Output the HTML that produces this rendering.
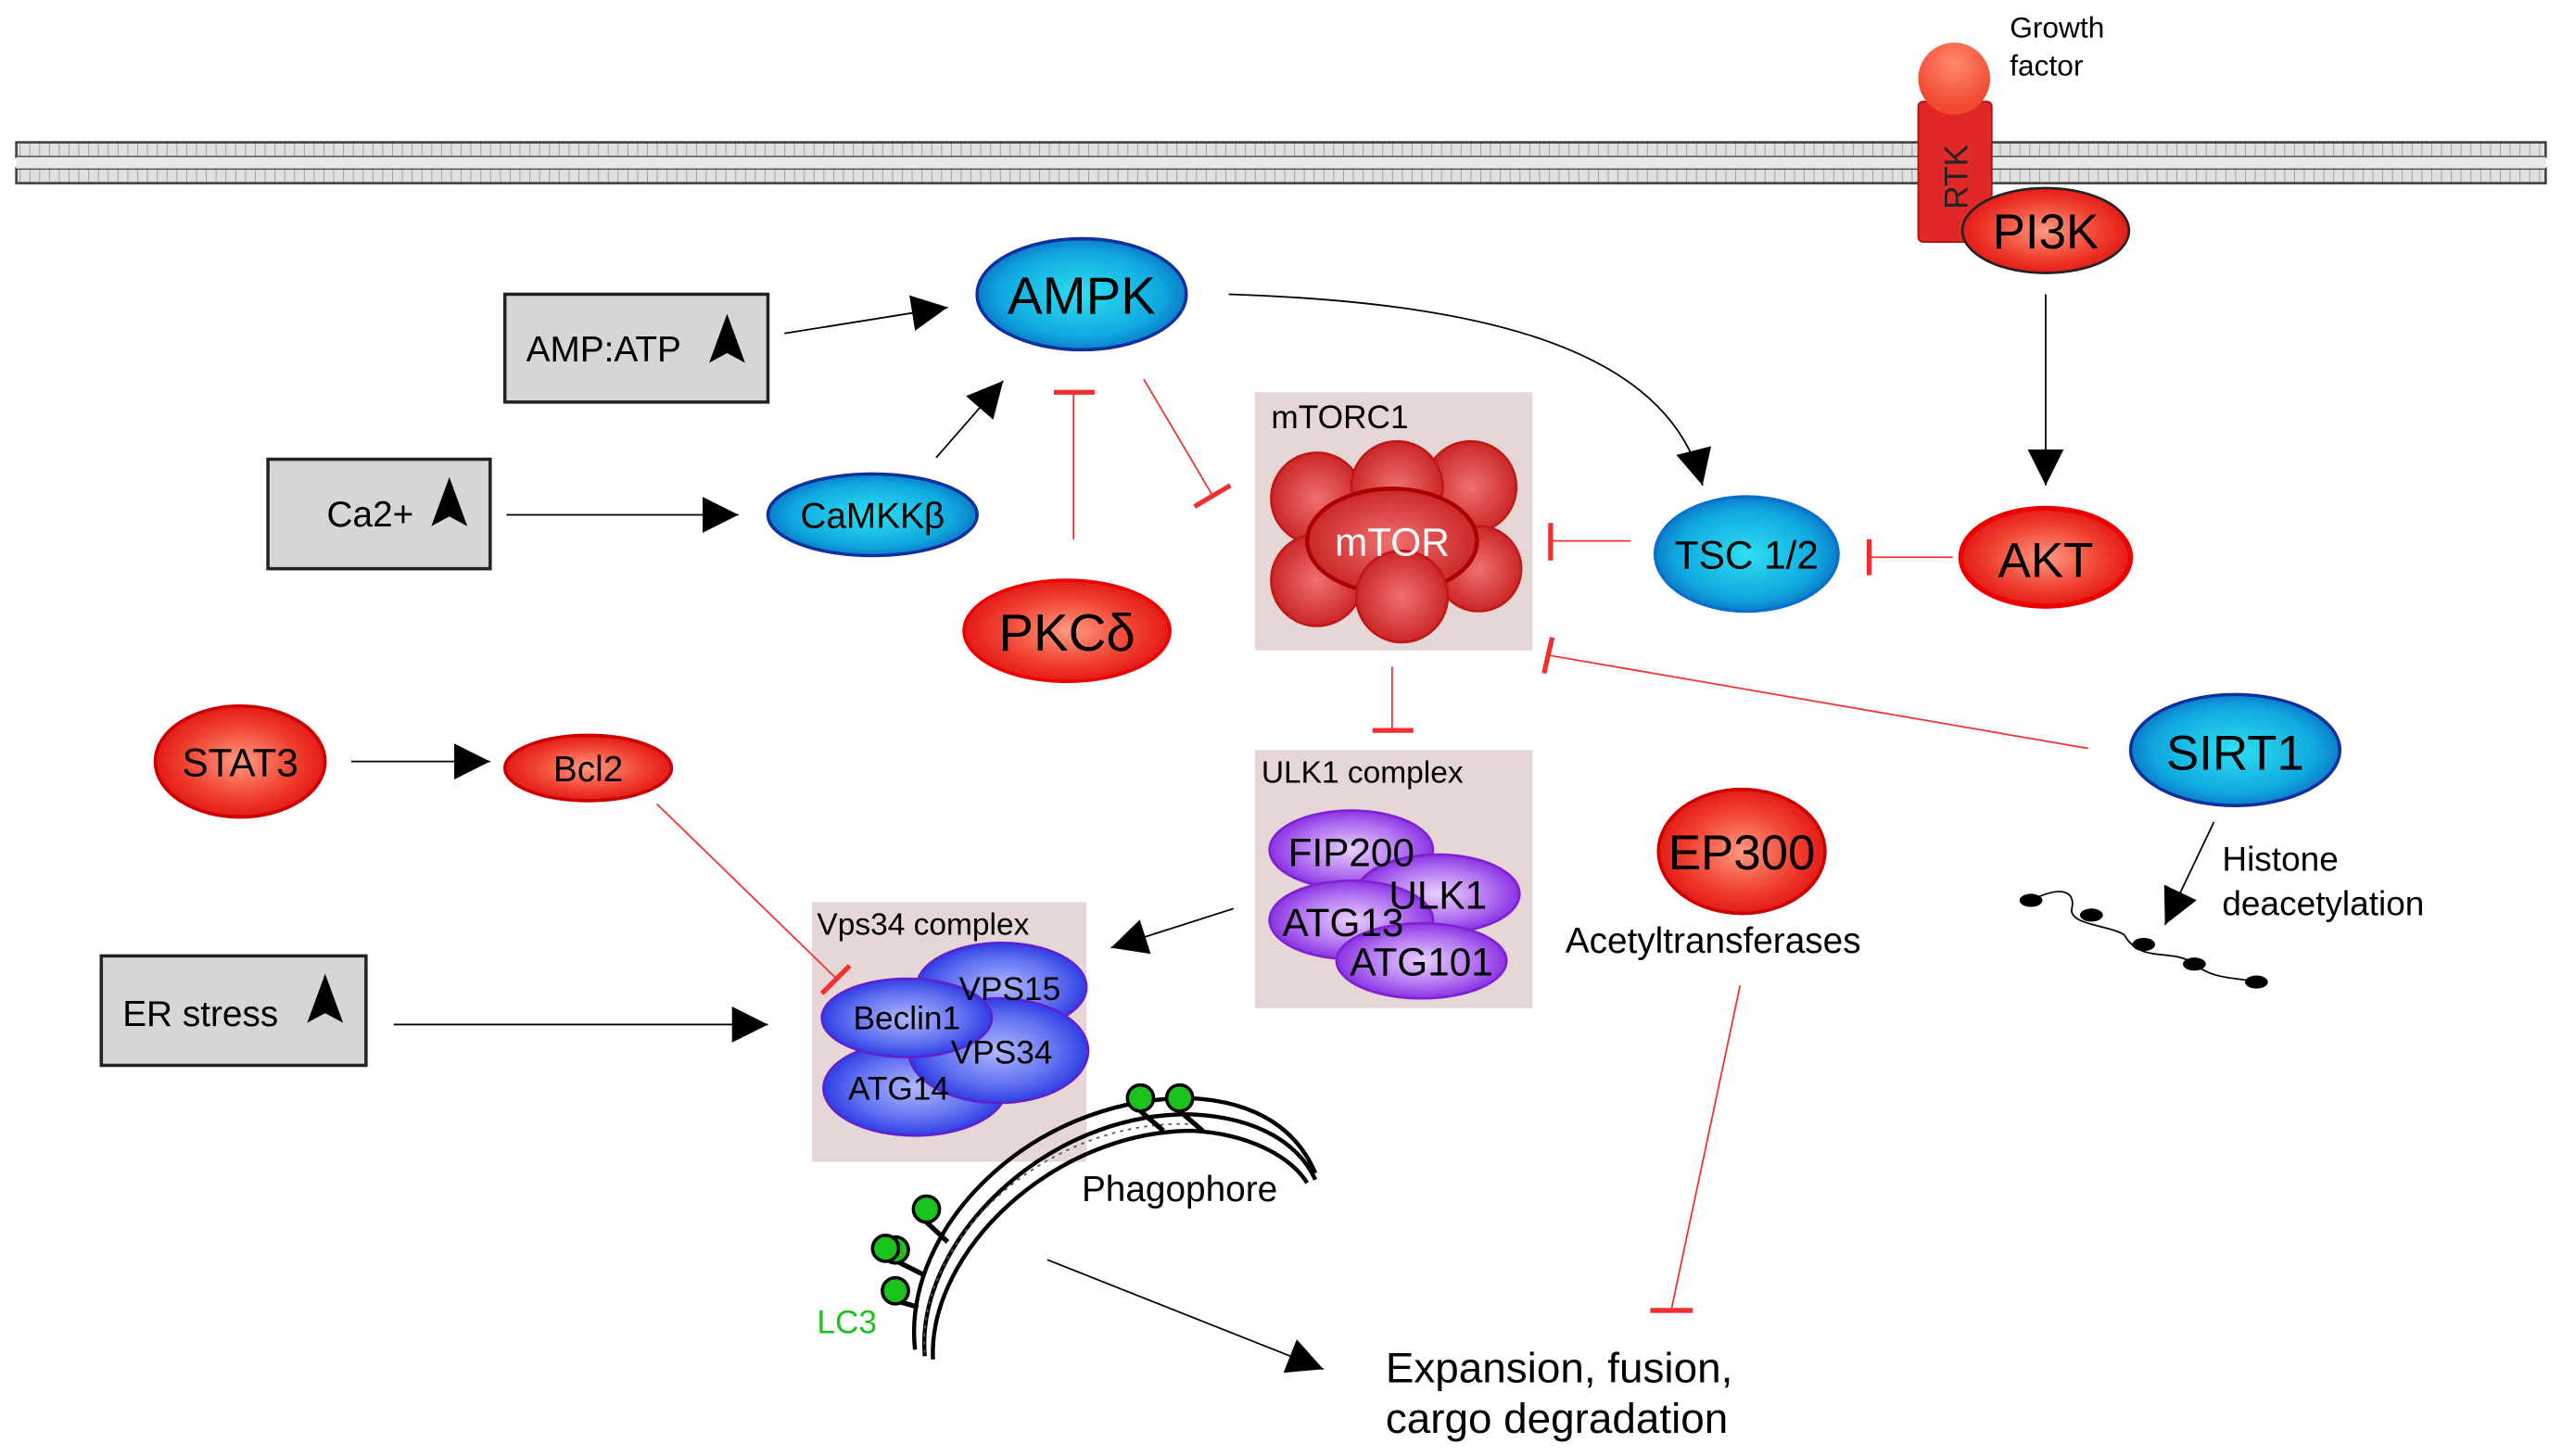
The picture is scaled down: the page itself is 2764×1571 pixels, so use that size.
<!DOCTYPE html>
<html><head><meta charset="utf-8"><style>html,body{margin:0;padding:0;background:#fff}svg{display:block}text{font-family:"Liberation Sans",sans-serif}</style></head><body>
<svg width="2764" height="1571" viewBox="0 0 1568 891" xmlns="http://www.w3.org/2000/svg">
<defs>
<radialGradient id="bl" cx="50%" cy="50%" r="55%"><stop offset="0" stop-color="#2ee0f0"/><stop offset="0.7" stop-color="#10a8e0"/><stop offset="1" stop-color="#0a6cc0"/></radialGradient>
<radialGradient id="rd" cx="50%" cy="50%" r="55%"><stop offset="0" stop-color="#ff9a80"/><stop offset="0.6" stop-color="#f04030"/><stop offset="1" stop-color="#e01010"/></radialGradient>
<radialGradient id="rb" cx="50%" cy="50%" r="55%"><stop offset="0" stop-color="#f07070"/><stop offset="1" stop-color="#c82020"/></radialGradient>
<radialGradient id="pu" cx="50%" cy="50%" r="55%"><stop offset="0" stop-color="#e8d0ff"/><stop offset="0.6" stop-color="#b070f0"/><stop offset="1" stop-color="#8020e0"/></radialGradient>
<radialGradient id="vb" cx="50%" cy="50%" r="55%"><stop offset="0" stop-color="#b0b8ff"/><stop offset="0.6" stop-color="#6070f0"/><stop offset="1" stop-color="#2030e0"/></radialGradient>
<radialGradient id="gr" cx="50%" cy="30%" r="60%"><stop offset="0" stop-color="#ff8a70"/><stop offset="1" stop-color="#f04a30"/></radialGradient>
<pattern id="mem" width="6" height="10" patternUnits="userSpaceOnUse"><rect width="6" height="10" fill="#e0e0e0"/><line x1="0" y1="0" x2="0" y2="10" stroke="#999" stroke-width="1"/></pattern>
<marker id="ar" viewBox="0 0 10 10" refX="10" refY="5" markerWidth="22" markerHeight="22" markerUnits="userSpaceOnUse" orient="auto"><path d="M0,0 L10,5 L0,10 z" fill="#000"/></marker>
</defs>
<rect x="10" y="87" width="1548" height="9" fill="url(#mem)" stroke="#444" stroke-width="1.5"/>
<rect x="10" y="103" width="1548" height="9" fill="url(#mem)" stroke="#444" stroke-width="1.5"/>
<rect x="10" y="96" width="1548" height="7" fill="#e8e8e8"/>
<rect x="1174" y="62" width="45" height="86" rx="3" fill="#e02828" stroke="#b01010"/>
<text transform="translate(1204,128) rotate(-90)" font-size="20" fill="#222">RTK</text>
<circle cx="1196" cy="48" r="22" fill="url(#gr)"/>
<text x="1230" y="23" font-size="18">Growth</text><text x="1230" y="46" font-size="18">factor</text>
<ellipse cx="1252" cy="141" rx="51" ry="26" fill="url(#rd)" stroke="#222" stroke-width="1.5"/>
<text x="1252" y="152" font-size="30" text-anchor="middle">PI3K</text>
<line x1="1252" y1="180" x2="1252" y2="297" stroke="#000" marker-end="url(#ar)"/>
<ellipse cx="1252" cy="341" rx="52" ry="30" fill="url(#rd)" stroke="#e00" stroke-width="3"/>
<text x="1252" y="353" font-size="30" text-anchor="middle">AKT</text>
<ellipse cx="1069" cy="339" rx="56" ry="35" fill="url(#bl)" stroke="#0a70d0" stroke-width="2"/>
<text x="1069" y="348" font-size="24" text-anchor="middle">TSC 1/2</text>
<rect x="768" y="240" width="170" height="158" fill="#e6d6d6"/>
<text x="778" y="262" font-size="20">mTORC1</text>
<g fill="url(#rb)" stroke="#c01818" stroke-width="1.5">
<circle cx="806" cy="305" r="28"/><circle cx="900" cy="298" r="28"/><circle cx="855" cy="298" r="28"/><circle cx="806" cy="355" r="28"/><circle cx="905" cy="348" r="26"/>
<ellipse cx="852" cy="331" rx="52" ry="32" stroke="#a00" stroke-width="2.5"/><circle cx="858" cy="365" r="28"/></g>
<text x="852" y="340" font-size="24" fill="#fff" text-anchor="middle">mTOR</text>
<ellipse cx="662" cy="180" rx="64" ry="34" fill="url(#bl)" stroke="#1030a0" stroke-width="2"/>
<text x="662" y="192" font-size="32" text-anchor="middle">AMPK</text>
<path d="M752,180 C900,185 1020,210 1042,297" fill="none" stroke="#000" stroke-width="1" marker-end="url(#ar)"/>
<ellipse cx="653" cy="386" rx="63" ry="31" fill="url(#rd)" stroke="#e00" stroke-width="2"/>
<text x="653" y="398" font-size="32" text-anchor="middle">PKCδ</text>
<g fill="#d6d6d6" stroke="#222" stroke-width="2"><rect x="309" y="180" width="161" height="66"/><rect x="164" y="281" width="136" height="67"/><rect x="62" y="585" width="162" height="67"/></g>
<text x="322" y="221" font-size="22">AMP:ATP</text><path d="M445,192 L456,222 L445,216 L434,222 z" fill="#000"/>
<text x="200" y="322" font-size="22">Ca2+</text><path d="M275,292 L286,322 L275,316 L264,322 z" fill="#000"/>
<text x="75" y="628" font-size="22">ER stress</text><path d="M199,596 L210,626 L199,620 L188,626 z" fill="#000"/>
<g stroke="#000" stroke-width="1" fill="none"><line x1="480" y1="204" x2="580" y2="188" marker-end="url(#ar)"/><line x1="310" y1="315" x2="452" y2="315" marker-end="url(#ar)"/><line x1="573" y1="280" x2="614" y2="233" marker-end="url(#ar)"/><line x1="215" y1="466" x2="300" y2="466" marker-end="url(#ar)"/><line x1="755" y1="556" x2="680" y2="580" marker-end="url(#ar)"/><line x1="241" y1="627" x2="470" y2="627" marker-end="url(#ar)"/><line x1="1355" y1="503" x2="1325" y2="566" marker-end="url(#ar)"/><line x1="641" y1="771" x2="810" y2="838" marker-end="url(#ar)"/></g>
<ellipse cx="534" cy="315" rx="64" ry="25" fill="url(#bl)" stroke="#1030a0" stroke-width="2"/>
<text x="534" y="323" font-size="22" text-anchor="middle">CaMKKβ</text>
<ellipse cx="147" cy="466" rx="52" ry="34" fill="url(#rd)" stroke="#c00" stroke-width="2"/>
<text x="147" y="475" font-size="24" text-anchor="middle">STAT3</text>
<ellipse cx="360" cy="470" rx="51" ry="20" fill="url(#rd)" stroke="#c00" stroke-width="2"/>
<text x="360" y="478" font-size="22" text-anchor="middle">Bcl2</text>
<rect x="768" y="459" width="170" height="158" fill="#e6d6d6"/>
<text x="772" y="479" font-size="19">ULK1 complex</text>
<g fill="url(#pu)" stroke="#8020d0" stroke-width="1.5">
<ellipse cx="827" cy="520" rx="50" ry="24"/><ellipse cx="880" cy="547" rx="50" ry="24"/><ellipse cx="827" cy="563" rx="50" ry="24"/><ellipse cx="870" cy="588" rx="52" ry="23"/></g>
<g font-size="24" text-anchor="middle"><text x="827" y="530">FIP200</text><text x="880" y="556">ULK1</text><text x="822" y="573">ATG13</text><text x="870" y="597">ATG101</text></g>
<rect x="497" y="552" width="168" height="159" fill="#e6d6d6"/>
<text x="500" y="572" font-size="19">Vps34 complex</text>
<g fill="url(#vb)" stroke="#6020d0" stroke-width="1.5">
<ellipse cx="613" cy="604" rx="52" ry="27"/><ellipse cx="560" cy="666" rx="56" ry="29"/><ellipse cx="611" cy="643" rx="55" ry="32"/><ellipse cx="555" cy="623" rx="52" ry="24"/></g>
<g font-size="20" text-anchor="middle"><text x="618" y="612">VPS15</text><text x="555" y="630">Beclin1</text><text x="613" y="651">VPS34</text><text x="550" y="673">ATG14</text></g>
<ellipse cx="1368" cy="459" rx="64" ry="34" fill="url(#bl)" stroke="#1030a0" stroke-width="2"/>
<text x="1368" y="471" font-size="30" text-anchor="middle">SIRT1</text>
<text x="1360" y="533" font-size="21">Histone</text><text x="1360" y="560" font-size="21">deacetylation</text>
<path d="M1243,551 C1265,540 1270,548 1268,556 C1266,566 1290,566 1300,572 C1310,590 1330,580 1343,590 C1355,600 1370,598 1381,601" fill="none" stroke="#000"/>
<g fill="#000"><ellipse cx="1243" cy="551" rx="7" ry="4"/><ellipse cx="1280" cy="560" rx="7" ry="4"/><ellipse cx="1312" cy="578" rx="7" ry="4"/><ellipse cx="1343" cy="590" rx="7" ry="4"/><ellipse cx="1381" cy="601" rx="7" ry="4"/></g>
<ellipse cx="1066" cy="521" rx="51" ry="38" fill="url(#rd)" stroke="#c00" stroke-width="2"/>
<text x="1066" y="532" font-size="30" text-anchor="middle">EP300</text>
<text x="958" y="583" font-size="22">Acetyltransferases</text>
<g fill="none" stroke="#000" stroke-width="2.5"><path d="M566,830 C560,760 640,680 730,682 C770,684 795,700 805,722"/><path d="M571,832 C568,766 645,692 730,692 C765,694 790,708 800,724"/><path d="M560,826 C552,752 630,672 728,672 C772,674 795,694 805,718"/></g>
<path d="M566,828 C560,760 640,684 730,688" fill="none" stroke="#555" stroke-width="1" stroke-dasharray="2 3"/>
<g stroke="#000" stroke-width="3" fill="none"><path d="M698,680 L712,692"/><path d="M722,680 L736,692"/><path d="M567,748 L580,760"/><path d="M545,770 L565,780"/><path d="M548,796 L562,800"/></g>
<g fill="#1cc21c" stroke="#000" stroke-width="2"><circle cx="698" cy="672" r="8"/><circle cx="722" cy="672" r="8"/><circle cx="567" cy="740" r="8"/><circle cx="548" cy="765" r="8"/><circle cx="542" cy="764" r="8"/><circle cx="548" cy="790" r="8"/></g>
<text x="500" y="816" font-size="20" fill="#1cc21c">LC3</text>
<text x="662" y="735" font-size="22">Phagophore</text>
<text x="848" y="846" font-size="26">Expansion, fusion,</text>
<text x="848" y="877" font-size="26">cargo degradation</text>
<g stroke="#f03030" stroke-width="1"><line x1="1195" y1="341" x2="1144" y2="341"/><line x1="998" y1="331" x2="949" y2="331"/><line x1="657" y1="330" x2="657" y2="240"/><line x1="852" y1="408" x2="852" y2="447"/><line x1="700" y1="232" x2="742" y2="303"/><line x1="1278" y1="458" x2="948" y2="401"/><line x1="402" y1="492" x2="512" y2="599"/><line x1="1065" y1="603" x2="1023" y2="801"/></g>
<g stroke="#f03030" stroke-width="3"><line x1="1144" y1="330" x2="1144" y2="352"/><line x1="949" y1="320" x2="949" y2="343"/><line x1="645" y1="240" x2="670" y2="240"/><line x1="840" y1="447" x2="865" y2="447"/><line x1="731" y1="310" x2="753" y2="297"/><line x1="945" y1="412" x2="950" y2="390"/><line x1="503" y1="608" x2="520" y2="591"/><line x1="1010" y1="802" x2="1036" y2="802"/></g>
</svg>
</body></html>
